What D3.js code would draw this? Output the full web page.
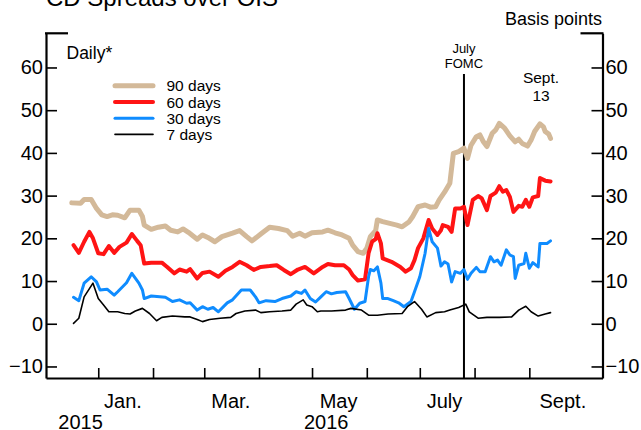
<!DOCTYPE html>
<html>
<head>
<meta charset="utf-8">
<script src="https://cdn.jsdelivr.net/npm/d3@7"></script>
<style>
  html, body { margin: 0; padding: 0; background: #fff; }
  svg { display: block; font-family: "Liberation Sans", Arial, Helvetica, sans-serif; }
</style>
</head>
<body>
<svg id="chart" width="641" height="430"></svg>
<script>
// ---------------- DATA ----------------
const dates90 = ["2015-12-17","2015-12-22","2015-12-24","2015-12-28","2015-12-31","2016-01-03","2016-01-06","2016-01-09","2016-01-12","2016-01-16","2016-01-19","2016-01-24","2016-01-26","2016-01-27","2016-01-31","2016-02-04","2016-02-08","2016-02-11","2016-02-15","2016-02-18","2016-02-21","2016-02-26","2016-02-29","2016-03-03","2016-03-07","2016-03-11","2016-03-17","2016-03-21","2016-03-25","2016-03-28","2016-04-02","2016-04-07","2016-04-12","2016-04-17","2016-04-20","2016-04-24","2016-04-27","2016-05-01","2016-05-07","2016-05-10","2016-05-14","2016-05-18","2016-05-22","2016-05-24","2016-05-27","2016-05-30","2016-06-01","2016-06-03","2016-06-06","2016-06-07","2016-06-10","2016-06-14","2016-06-18","2016-06-21","2016-06-25","2016-06-27","2016-06-30","2016-07-04","2016-07-07","2016-07-10","2016-07-12","2016-07-15","2016-07-18","2016-07-20","2016-07-23","2016-07-26","2016-07-28","2016-07-30","2016-08-02","2016-08-04","2016-08-06","2016-08-08","2016-08-11","2016-08-13","2016-08-15","2016-08-18","2016-08-21","2016-08-24","2016-08-26","2016-08-28","2016-08-31","2016-09-02","2016-09-04","2016-09-07","2016-09-09","2016-09-10","2016-09-12","2016-09-13"];
const values90 = [28.3,28.2,29.1,29.1,27.0,25.5,25.1,25.5,25.4,24.8,26.6,26.6,25.1,23.1,22.1,22.6,22.9,21.9,21.5,22.2,21.4,19.8,20.8,20.2,19.2,20.4,21.2,21.8,20.4,19.4,21.0,22.6,22.3,21.8,20.5,21.2,20.5,21.3,21.5,21.9,21.3,20.8,20.0,18.4,16.9,16.5,17.7,20.4,21.8,24.3,23.9,23.5,23.1,22.7,23.9,25.1,27.4,27.8,27.3,27.4,29.0,30.8,32.9,39.9,40.3,41.1,38.7,41.8,43.8,44.2,42.6,41.5,44.6,45.4,46.9,45.8,44.0,42.6,43.2,42.2,41.6,43.0,45.0,46.8,46.1,45.0,44.4,43.4];

const dates60 = ["2015-12-18","2015-12-21","2015-12-24","2015-12-27","2015-12-29","2016-01-01","2016-01-04","2016-01-07","2016-01-10","2016-01-13","2016-01-17","2016-01-20","2016-01-23","2016-01-25","2016-01-27","2016-01-31","2016-02-06","2016-02-09","2016-02-13","2016-02-16","2016-02-20","2016-02-22","2016-02-26","2016-02-29","2016-03-04","2016-03-09","2016-03-13","2016-03-17","2016-03-21","2016-03-25","2016-03-29","2016-04-02","2016-04-07","2016-04-11","2016-04-15","2016-04-19","2016-04-23","2016-04-27","2016-05-02","2016-05-07","2016-05-10","2016-05-14","2016-05-19","2016-05-22","2016-05-24","2016-05-27","2016-05-31","2016-06-02","2016-06-04","2016-06-06","2016-06-07","2016-06-09","2016-06-10","2016-06-15","2016-06-20","2016-06-23","2016-06-26","2016-06-28","2016-06-30","2016-07-03","2016-07-06","2016-07-08","2016-07-11","2016-07-13","2016-07-14","2016-07-17","2016-07-19","2016-07-21","2016-07-24","2016-07-26","2016-07-28","2016-07-29","2016-07-31","2016-08-03","2016-08-05","2016-08-08","2016-08-10","2016-08-13","2016-08-15","2016-08-17","2016-08-19","2016-08-21","2016-08-23","2016-08-26","2016-08-28","2016-08-30","2016-09-01","2016-09-03","2016-09-06","2016-09-07","2016-09-10","2016-09-13"];
const values60 = [18.4,16.6,19.2,21.5,20.0,16.5,16.3,18.2,16.6,18.0,19.0,21.0,19.4,18.4,14.1,14.3,14.3,13.3,11.8,12.7,12.2,12.8,10.6,11.9,12.2,11.0,12.4,13.3,14.5,13.7,12.6,13.3,13.5,13.7,12.6,11.6,12.7,13.3,11.8,13.3,14.0,13.7,13.7,12.7,11.4,10.1,10.4,16.5,19.2,19.8,21.2,18.8,15.3,14.5,13.3,12.2,13.0,14.9,17.7,20.0,24.3,22.3,20.8,21.9,23.1,22.7,21.5,27.0,27.0,27.4,23.1,25.1,29.0,29.9,29.4,26.6,29.9,30.7,32.2,30.9,31.3,29.7,26.2,27.6,27.4,29.0,27.4,29.6,29.9,34.1,33.5,33.3];

const dates30 = ["2015-12-18","2015-12-21","2015-12-24","2015-12-28","2015-12-31","2016-01-02","2016-01-06","2016-01-10","2016-01-12","2016-01-17","2016-01-20","2016-01-24","2016-01-26","2016-01-27","2016-01-31","2016-02-08","2016-02-12","2016-02-16","2016-02-20","2016-02-22","2016-02-26","2016-02-29","2016-03-03","2016-03-06","2016-03-09","2016-03-14","2016-03-17","2016-03-22","2016-03-27","2016-03-30","2016-04-01","2016-04-05","2016-04-10","2016-04-14","2016-04-19","2016-04-22","2016-04-25","2016-04-27","2016-04-30","2016-05-03","2016-05-06","2016-05-09","2016-05-12","2016-05-15","2016-05-20","2016-05-22","2016-05-25","2016-05-28","2016-05-31","2016-06-02","2016-06-03","2016-06-05","2016-06-07","2016-06-09","2016-06-10","2016-06-13","2016-06-16","2016-06-19","2016-06-22","2016-06-26","2016-06-28","2016-07-01","2016-07-04","2016-07-06","2016-07-08","2016-07-11","2016-07-13","2016-07-15","2016-07-17","2016-07-19","2016-07-21","2016-07-24","2016-07-26","2016-07-28","2016-07-30","2016-08-02","2016-08-04","2016-08-07","2016-08-10","2016-08-12","2016-08-14","2016-08-16","2016-08-19","2016-08-21","2016-08-23","2016-08-24","2016-08-26","2016-08-29","2016-08-30","2016-09-01","2016-09-03","2016-09-06","2016-09-07","2016-09-11","2016-09-13"];
const values30 = [6.2,5.4,9.5,11.0,9.8,7.9,8.1,6.7,7.5,9.6,11.8,9.5,7.9,5.9,6.5,6.2,5.2,5.6,4.8,4.9,3.2,4.0,3.4,3.8,2.8,4.9,5.6,7.9,7.9,6.3,4.9,5.4,5.2,5.9,6.5,7.5,7.1,7.9,5.9,5.1,6.3,7.5,7.0,7.3,7.5,5.9,3.4,4.8,5.2,11.0,12.7,12.4,13.3,9.5,5.9,5.9,5.4,4.9,4.0,5.2,7.5,11.0,16.5,22.3,19.2,17.7,13.5,14.5,14.0,9.8,12.2,11.8,12.7,10.4,11.8,13.2,12.2,12.2,15.7,14.5,14.9,13.7,17.3,16.1,15.7,10.6,13.7,14.1,16.5,13.0,14.3,13.3,18.8,18.8,19.4];

const dates7 = ["2015-12-18","2015-12-21","2015-12-24","2015-12-29","2016-01-01","2016-01-04","2016-01-07","2016-01-12","2016-01-16","2016-01-19","2016-01-22","2016-01-26","2016-01-30","2016-02-03","2016-02-06","2016-02-12","2016-02-19","2016-02-22","2016-02-26","2016-02-29","2016-03-04","2016-03-10","2016-03-16","2016-03-19","2016-03-24","2016-03-30","2016-04-02","2016-04-07","2016-04-14","2016-04-19","2016-04-22","2016-04-26","2016-04-28","2016-05-01","2016-05-04","2016-05-06","2016-05-12","2016-05-20","2016-05-23","2016-05-29","2016-06-02","2016-06-07","2016-06-13","2016-06-21","2016-06-24","2016-06-28","2016-07-02","2016-07-05","2016-07-10","2016-07-15","2016-07-18","2016-07-23","2016-07-27","2016-07-29","2016-08-03","2016-08-08","2016-08-15","2016-08-22","2016-08-26","2016-08-30","2016-09-02","2016-09-06","2016-09-10","2016-09-13"];
const values7 = [0.1,1.3,6.3,9.5,5.9,4.4,2.8,2.8,2.4,2.3,3.0,3.6,2.4,0.7,1.5,1.8,1.6,1.6,1.0,0.5,1.0,1.3,1.5,2.4,3.0,3.2,2.6,2.8,3.0,3.2,4.6,5.6,4.4,4.0,2.8,3.0,3.0,3.2,3.6,3.2,2.0,2.0,2.3,2.4,4.0,5.2,3.4,1.6,2.6,2.8,3.2,3.8,4.6,2.8,1.3,1.5,1.5,1.6,3.2,4.1,2.8,1.8,2.3,2.6];

const seriesNames = ["90 days", "60 days", "30 days", "7 days"];
const seriesColors = ["#D3B999", "#FF1414", "#0F8CFF", "#000000"];
const seriesWidths = [5, 4, 3, 1.6];

const yTicks = [-10, 0, 10, 20, 30, 40, 50, 60];
const monthTickDates = ["2016-01-01","2016-02-01","2016-03-01","2016-04-01","2016-05-01","2016-06-01","2016-07-01","2016-08-01","2016-09-01"];
const monthLabels = ["Jan.", "Mar.", "May", "July", "Sept."];
const monthLabelDates = ["2016-01-15","2016-03-16","2016-05-16","2016-07-15","2016-09-20"];
const yearLabels = ["2015", "2016"];
const yearLabelDates = ["2015-12-22","2016-05-09"];
const fomcDate = "2016-07-26";

// ---------------- CHART ----------------
(function () {
const parse = d3.timeParse("%Y-%m-%d");
const svg = d3.select("#chart");
const W = 641, H = 430;
const mLeft = 46, mRight = 602.5, mTop = 33.3, mBottom = 378;
const FONT = "'Liberation Sans', Arial, Helvetica, sans-serif";

const x = d3.scaleTime()
  .domain([new Date(2015, 11, 2, 10), new Date(2016, 9, 12, 10)])
  .range([mLeft, mRight]);
const y = d3.scaleLinear().domain([-12.7, 68]).range([mBottom, mTop]);

svg.append("rect").attr("width", W).attr("height", H).attr("fill", "#fff");

// Title (cropped at top, as in the reference)
svg.append("text").attr("x", 162).attr("y", 6).attr("text-anchor", "middle")
  .attr("font-size", 24).attr("fill", "#000").text("CD Spreads over OIS");

svg.append("text").attr("x", 602).attr("y", 25).attr("text-anchor", "end")
  .attr("font-size", 18).attr("fill", "#000").text("Basis points");

// Axes
const axL = svg.append("g").attr("transform", `translate(${mLeft},0)`)
  .call(d3.axisLeft(y).tickValues(yTicks).tickSizeInner(-11).tickSizeOuter(0).tickPadding(3));
const axR = svg.append("g").attr("transform", `translate(${mRight},0)`)
  .call(d3.axisRight(y).tickValues(yTicks).tickSizeInner(-11).tickSizeOuter(0).tickPadding(3));
const axB = svg.append("g").attr("transform", `translate(0,${mBottom})`)
  .call(d3.axisBottom(x).tickValues(monthTickDates.map(parse)).tickFormat("").tickSizeInner(-10).tickSizeOuter(0));

[axL, axR, axB].forEach(g => {
  g.select(".domain").attr("stroke", "#000").attr("stroke-width", 2.2);
  g.selectAll(".tick line").attr("stroke", "#000").attr("stroke-width", 1.6);
  g.selectAll(".tick text").attr("font-size", 20).attr("font-family", FONT).attr("fill", "#000");
});

// top caps
svg.append("line").attr("x1", mLeft - 1).attr("x2", mLeft + 22).attr("y1", mTop).attr("y2", mTop)
  .attr("stroke", "#000").attr("stroke-width", 2.2);
svg.append("line").attr("x1", mRight - 22).attr("x2", mRight + 1).attr("y1", mTop).attr("y2", mTop)
  .attr("stroke", "#000").attr("stroke-width", 2.2);

// month & year labels
svg.append("g").selectAll("text").data(monthLabels).join("text")
  .attr("x", (d, i) => x(parse(monthLabelDates[i]))).attr("y", 408)
  .attr("text-anchor", "middle").attr("font-size", 20).attr("fill", "#000").text(d => d);
svg.append("g").selectAll("text").data(yearLabels).join("text")
  .attr("x", (d, i) => x(parse(yearLabelDates[i]))).attr("y", 429)
  .attr("text-anchor", "middle").attr("font-size", 20).attr("fill", "#000").text(d => d);

// Daily*
svg.append("text").attr("x", 66.5).attr("y", 59).attr("font-size", 17.5).attr("fill", "#000").text("Daily*");

// FOMC line
const fx = x(parse(fomcDate));
svg.append("line").attr("x1", fx).attr("x2", fx).attr("y1", 74).attr("y2", mBottom)
  .attr("stroke", "#000").attr("stroke-width", 2);
svg.append("text").attr("x", fx).attr("y", 53).attr("text-anchor", "middle").attr("font-size", 13).text("July");
svg.append("text").attr("x", fx).attr("y", 68).attr("text-anchor", "middle").attr("font-size", 13).text("FOMC");

// Sept. 13
svg.append("text").attr("x", 541).attr("y", 83).attr("text-anchor", "middle").attr("font-size", 15.5).text("Sept.");
svg.append("text").attr("x", 541).attr("y", 101).attr("text-anchor", "middle").attr("font-size", 15.5).text("13");

// Series
const allDates = [dates90, dates60, dates30, dates7];
const allValues = [values90, values60, values30, values7];
const line = d3.line().x(d => x(d.date)).y(d => y(d.value));
allDates.forEach((ds, s) => {
  const pts = ds.map((d, i) => ({ date: parse(d), value: allValues[s][i] }));
  svg.append("path").datum(pts)
    .attr("d", line)
    .attr("fill", "none")
    .attr("stroke", seriesColors[s])
    .attr("stroke-width", seriesWidths[s])
    .attr("stroke-linejoin", "round")
    .attr("stroke-linecap", "round");
});

// Legend
const legY = [85.7, 102, 118.2, 134.4];
const leg = svg.append("g").selectAll("g").data(seriesNames).join("g");
leg.append("line")
  .attr("x1", 115).attr("x2", 153)
  .attr("y1", (d, i) => legY[i]).attr("y2", (d, i) => legY[i])
  .attr("stroke", (d, i) => seriesColors[i])
  .attr("stroke-width", (d, i) => seriesWidths[i])
  .attr("stroke-linecap", "round");
leg.append("text")
  .attr("x", 166.5).attr("y", (d, i) => legY[i] + 5.5)
  .attr("font-size", 15.5).attr("fill", "#000").text(d => d);
})();
</script>
</body>
</html>
